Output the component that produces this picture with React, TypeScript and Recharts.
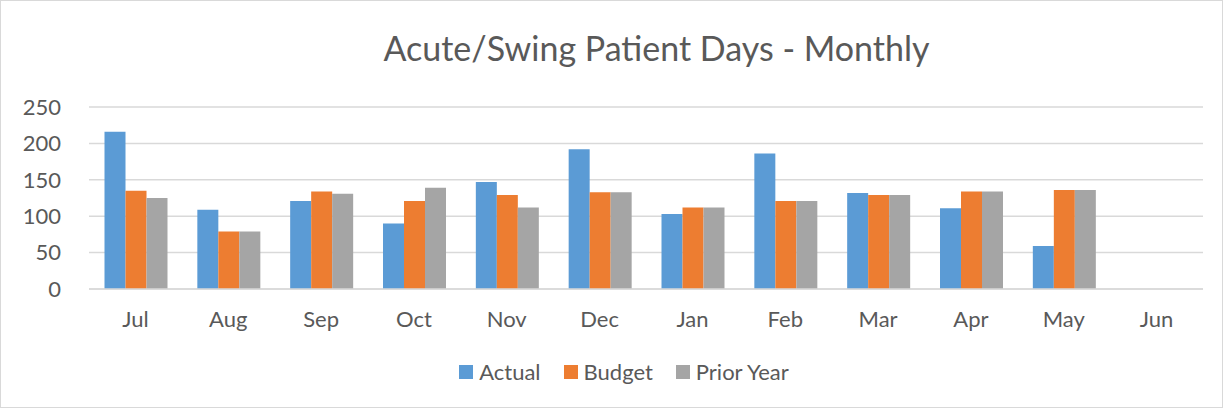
import React from 'react';
import { BarChart, Bar, XAxis, YAxis, CartesianGrid, Legend } from 'recharts';

const months = ['Jul', 'Aug', 'Sep', 'Oct', 'Nov', 'Dec', 'Jan', 'Feb', 'Mar', 'Apr', 'May', 'Jun'];
const actual = [216, 109, 121, 90, 147, 192, 103, 186, 132, 111, 59, null];
const budget = [135, 79, 134, 121, 129, 133, 112, 121, 129, 134, 136, null];
const priorYear = [125, 79, 131, 139, 112, 133, 112, 121, 129, 134, 136, null];
const yTicks = [0, 50, 100, 150, 200, 250];

const series = [
    { key: 'Actual', color: '#5B9BD5' },
    { key: 'Budget', color: '#ED7D31' },
    { key: 'Prior Year', color: '#A5A5A5' },
];

const data = months.map((m, i) => ({
    month: m,
    Actual: actual[i],
    Budget: budget[i],
    'Prior Year': priorYear[i],
}));

const FONT = 'Lato, "Liberation Sans", sans-serif';
const TEXT = '#595959';

// legend drawn by hand so the spacing matches Excel's
const renderLegend = () => (
    <div style={{ display: 'flex', justifyContent: 'center', paddingLeft: 44, fontFamily: FONT, fontSize: 22, color: TEXT }}>
        {series.map((s, i) => (
            <div key={s.key} style={{ display: 'flex', alignItems: 'center', marginLeft: i ? 23 : 0 }}>
                <span style={{ width: 14, height: 14, background: s.color, display: 'inline-block', marginRight: 6 }} />
                <span>{s.key}</span>
            </div>
        ))}
    </div>
);

const App: React.FC = () => {
    return (
        <div style={{
            position: 'absolute', left: 0, top: 0, width: 1223, height: 408,
            boxSizing: 'border-box', border: '1px solid #d9d9d9', background: '#fff',
        }}>
            <div style={{
                position: 'absolute', top: 26, left: 0, width: 1221, paddingLeft: 90, boxSizing: 'border-box', textAlign: 'center',
                fontFamily: FONT, fontSize: 34, color: TEXT,
            }}>
                Acute/Swing Patient Days - Monthly
            </div>
            <BarChart
                width={1221}
                height={406}
                data={data}
                margin={{ top: 106, right: 19, left: 0, bottom: 22 }}
                barCategoryGap={15.5}
                barGap={0}
                style={{ position: 'absolute', left: 0, top: 0 }}
            >
                <CartesianGrid vertical={false} stroke="#d9d9d9" strokeWidth={1.5} />
                <XAxis
                    dataKey="month"
                    tickLine={false}
                    axisLine={{ stroke: '#d9d9d9', strokeWidth: 1.5 }}
                    tick={{ fill: TEXT, fontSize: 22, fontFamily: FONT }}
                    tickMargin={16}
                    height={69}
                />
                <YAxis
                    domain={[0, 250]}
                    ticks={yTicks}
                    width={88}
                    tickLine={false}
                    axisLine={false}
                    tickMargin={22}
                    tick={{ fill: TEXT, fontSize: 22, fontFamily: FONT }}
                />
                <Legend verticalAlign="bottom" content={renderLegend} wrapperStyle={{ bottom: 22 }} />
                {series.map((s) => (
                    <Bar key={s.key} dataKey={s.key} fill={s.color} isAnimationActive={false} />
                ))}
            </BarChart>
        </div>
    );
};

export default App;
